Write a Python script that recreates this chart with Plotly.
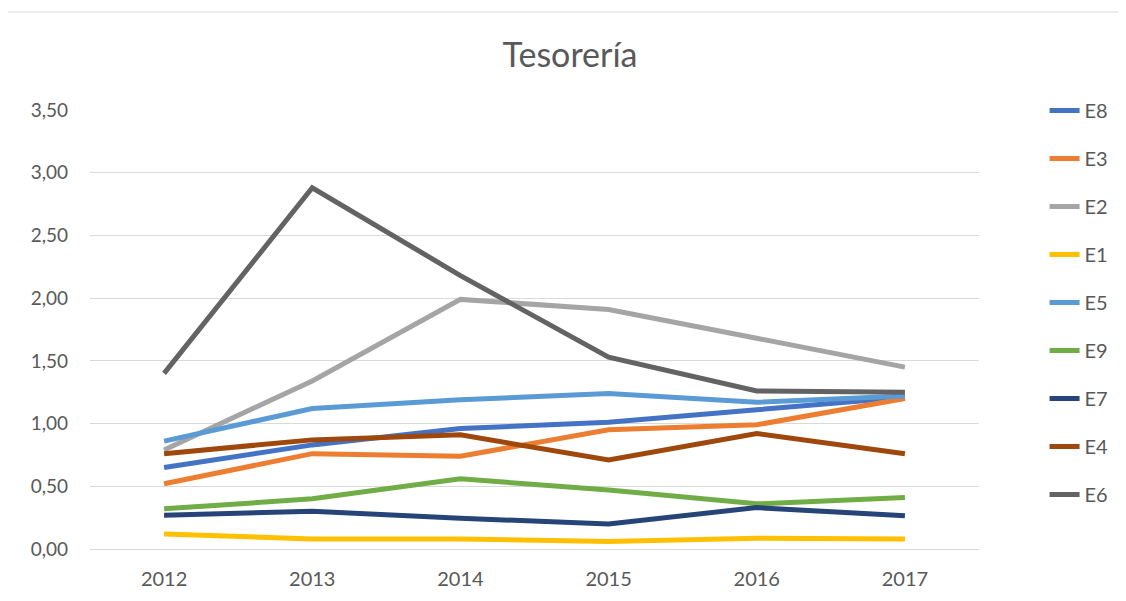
import plotly.graph_objects as go

years = ["2012", "2013", "2014", "2015", "2016", "2017"]
series_names = ["E8", "E3", "E2", "E1", "E5", "E9", "E7", "E4", "E6"]
E8 = [0.65, 0.83, 0.96, 1.01, 1.11, 1.21]
E3 = [0.52, 0.76, 0.74, 0.95, 0.99, 1.20]
E2 = [0.79, 1.34, 1.99, 1.91, 1.68, 1.45]
E1 = [0.12, 0.08, 0.08, 0.06, 0.085, 0.08]
E5 = [0.86, 1.12, 1.19, 1.24, 1.17, 1.22]
E9 = [0.32, 0.40, 0.56, 0.47, 0.36, 0.41]
E7 = [0.27, 0.30, 0.245, 0.20, 0.33, 0.265]
E4 = [0.76, 0.87, 0.91, 0.71, 0.92, 0.76]
E6 = [1.40, 2.88, 2.18, 1.53, 1.26, 1.25]
values = [E8, E3, E2, E1, E5, E9, E7, E4, E6]
colors = ["#4472C4", "#ED7D31", "#A5A5A5", "#FFC000", "#5B9BD5",
          "#70AD47", "#264478", "#9E480E", "#636363"]

fig = go.Figure()
for name, vals, col in zip(series_names, values, colors):
    fig.add_trace(go.Scatter(x=years, y=vals, name=name, mode="lines",
                             line=dict(color=col, width=5),
                             legendgroup=name))

# page has an 8px body margin; work in figure coordinates
W, H = 1118, 593
L, R, T, B = 82, 141, 102, 52
pw = W - L - R
ph = H - T - B

fig.update_layout(
    width=W, height=H,
    margin=dict(l=L, r=R, t=T, b=B),
    paper_bgcolor="white", plot_bgcolor="white",
    font=dict(family="Lato, 'Open Sans', sans-serif", color="#595959", size=19),
    separators=",.",
    title=dict(text="Tesorería", x=562 / W, xanchor="center",
               y=1 - 47 / H, yanchor="middle",
               font=dict(size=34, color="#595959")),
    xaxis=dict(range=[-0.5, 5.5], showgrid=False, showline=True,
               linecolor="#d9d9d9", linewidth=1, ticks="", zeroline=False,
               ticklabelstandoff=12,
               tickfont=dict(size=20, color="#595959")),
    yaxis=dict(range=[0, 3.5], dtick=0.5, tickformat=".2f", showgrid=True,
               gridcolor="#d9d9d9", gridwidth=1, zeroline=False, showline=False,
               ticks="", ticklabelstandoff=21,
               tickfont=dict(size=19, color="#595959")),
    legend=dict(x=(1043 - L) / pw, y=(H - B - 83) / ph, xanchor="left", yanchor="top",
                font=dict(size=20, color="#595959"), tracegroupgap=19,
                maxheight=1.0,
                bgcolor="rgba(0,0,0,0)"),
    showlegend=True,
)

# chart outer border (top edge)
fig.add_shape(type="line", xref="paper", yref="paper",
              x0=(-10 - L) / pw, x1=(W + 10 - L) / pw,
              y0=(H - B - 4) / ph, y1=(H - B - 4) / ph,
              line=dict(color="#d9d9d9", width=1))

fig.write_html("out.html")
